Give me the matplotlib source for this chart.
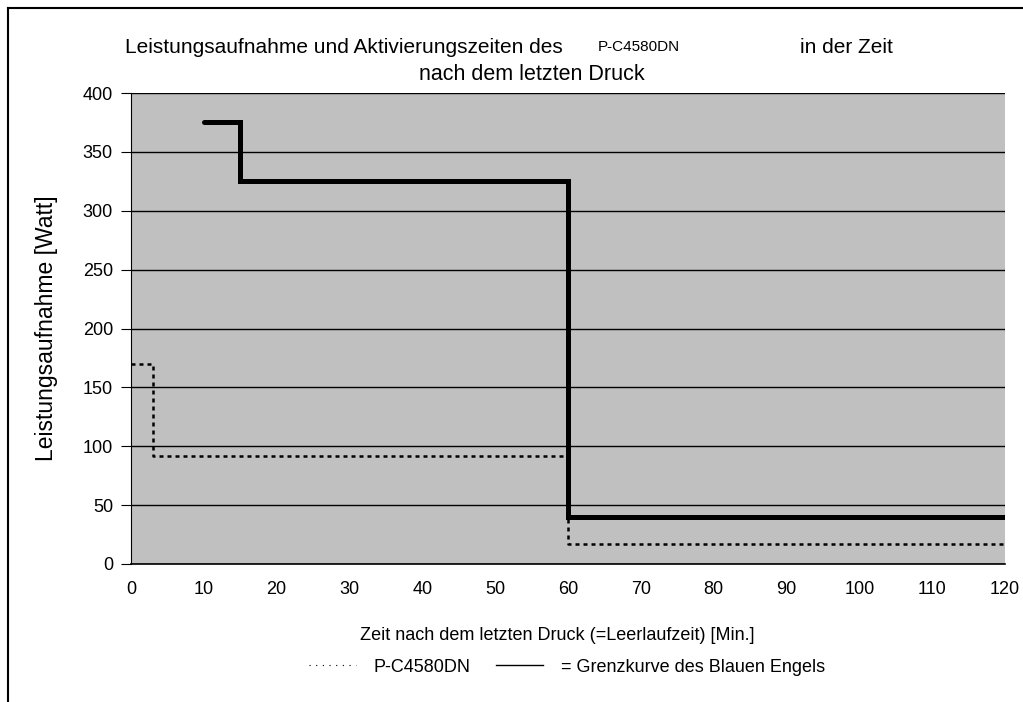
import matplotlib.pyplot as plt
from matplotlib.lines import Line2D

plt.rcParams['font.family'] = ['Liberation Sans', 'DejaVu Sans']

# data (step curves, value holds until next x)
printer_x = [0, 3, 60, 120]
printer_y = [170, 92, 17, 17]
limit_x = [10, 15, 60, 120]
limit_y = [375, 325, 40, 40]
x_ticks = list(range(0, 121, 10))
y_ticks = list(range(0, 401, 50))

fig = plt.figure(figsize=(10.23, 7.02), dpi=100)
ax = fig.add_axes([131 / 1023, 1 - 564 / 702, (1005 - 131) / 1023, (564 - 93) / 702])
ax.set_facecolor('#c0c0c0')

ax.step(printer_x, printer_y, where='post', color='black', lw=1.8,
        linestyle=(0, (1.6, 1.6)), zorder=3)
ax.step(limit_x, limit_y, where='post', color='black', lw=3.6,
        solid_capstyle='round', solid_joinstyle='miter', zorder=4)

ax.set_xlim(0, 120)
ax.set_ylim(0, 400)
ax.set_xticks(x_ticks)
ax.set_yticks(y_ticks)
ax.yaxis.grid(True, color='black', lw=1.0)
ax.set_axisbelow(True)
ax.tick_params(axis='y', length=7, width=0.8, labelsize=13, pad=6)
ax.tick_params(axis='x', length=0, labelsize=13, pad=12)
for s in ['top', 'right']:
    ax.spines[s].set_visible(False)
ax.spines['left'].set_linewidth(0.8)
ax.spines['bottom'].set_linewidth(1.2)

ax.set_ylabel('Leistungsaufnahme [Watt]', fontsize=16.5, labelpad=18)

# title, with the model name in a smaller font
fig.text(125 / 1023, 1 - 53 / 702, 'Leistungsaufnahme und Aktivierungszeiten des',
         fontsize=15, ha='left', va='baseline')
fig.text(598 / 1023, 1 - 51 / 702, 'P-C4580DN', fontsize=11, ha='left', va='baseline')
fig.text(800 / 1023, 1 - 53 / 702, 'in der Zeit', fontsize=15, ha='left', va='baseline')
fig.text(532 / 1023, 1 - 80 / 702, 'nach dem letzten Druck', fontsize=15.5,
         ha='center', va='baseline')

fig.text(557 / 1023, 1 - 640 / 702, 'Zeit nach dem letzten Druck (=Leerlaufzeit) [Min.]',
         fontsize=13, ha='center', va='baseline')

handles = [Line2D([], [], color='black', lw=0.8, linestyle=(0, (1, 5))),
           Line2D([], [], color='black', lw=1.0)]
fig.legend(handles, ['P-C4580DN', '= Grenzkurve des Blauen Engels'],
           loc='center', bbox_to_anchor=(567 / 1023, 1 - 667 / 702), ncol=2,
           frameon=False, fontsize=13, handlelength=2.6, columnspacing=1.4,
           handletextpad=1.0)

# outer frame lines (left and top only)
fig.add_artist(Line2D([8 / 1023, 8 / 1023], [0, 1 - 8 / 702], color='black', lw=1.5,
                      transform=fig.transFigure))
fig.add_artist(Line2D([8 / 1023, 1], [1 - 8 / 702, 1 - 8 / 702], color='black', lw=1.5,
                      transform=fig.transFigure))

fig.savefig('out.png', dpi=100)
